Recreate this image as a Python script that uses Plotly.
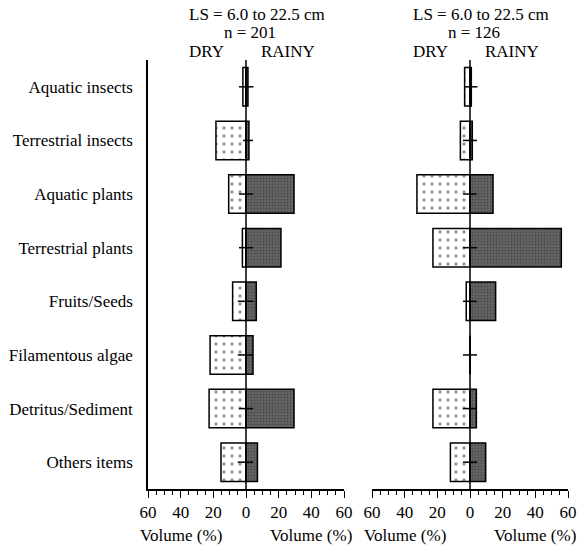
import numpy as np
import plotly.graph_objects as go

categories = ["Aquatic insects", "Terrestrial insects", "Aquatic plants", "Terrestrial plants",
              "Fruits/Seeds", "Filamentous algae", "Detritus/Sediment", "Others items"]

# Left panel (n = 201)
dry_left = [1.9, 18.4, 10.6, 2.2, 8.2, 22.0, 22.6, 15.3]
rainy_left = [1.2, 1.8, 29.4, 21.4, 6.3, 4.3, 29.4, 7.0]
err_minus_left = [4.3, 1.8, 4.3, 4.3, 5.0, 5.0, 4.3, 5.0]
err_plus_left = [4.6, 4.3, 4.3, 4.3, 4.6, 4.3, 4.3, 4.3]

# Right panel (n = 126)
dry_right = [3.3, 5.9, 32.5, 22.7, 2.3, 0.0, 22.7, 12.0]
rainy_right = [0.8, 1.4, 14.1, 55.9, 15.7, 0.0, 3.9, 9.6]
err_minus_right = [3.3, 4.3, 4.3, 4.3, 4.3, 4.3, 4.3, 4.3]
err_plus_right = [4.6, 4.3, 4.0, 4.3, 4.0, 4.3, 4.0, 4.3]

tick_vals = [-60, -40, -20, 0, 20, 40, 60]
tick_text = ["60", "40", "20", "0", "20", "40", "60"]

FONT = "Liberation Serif"
FS = 17
W, H = 579, 547

fig = go.Figure()

dry_pattern = dict(shape=".", fgcolor="#333333", bgcolor="white", size=8, solidity=0.14, fillmode="overlay")
rainy_pattern = dict(shape=".", fgcolor="#2a2a2a", bgcolor="#656565", size=3, solidity=0.3, fillmode="overlay")

panels = [("x", "y", dry_left, rainy_left, err_minus_left, err_plus_left),
          ("x2", "y2", dry_right, rainy_right, err_minus_right, err_plus_right)]

for xa, ya, dry, rainy, em, ep in panels:
    fig.add_trace(go.Bar(
        y=categories, x=-np.array(dry), orientation="h", width=0.72,
        marker=dict(color="white", pattern=dry_pattern, line=dict(color="black", width=1.5)),
        xaxis=xa, yaxis=ya, showlegend=False))
    fig.add_trace(go.Bar(
        y=categories, x=np.array(rainy), orientation="h", width=0.72,
        marker=dict(color="#656565", pattern=rainy_pattern, line=dict(color="black", width=1.5)),
        xaxis=xa, yaxis=ya, showlegend=False))
    fig.add_trace(go.Scatter(
        y=categories, x=np.zeros(len(categories)), mode="markers",
        marker=dict(size=0.1, color="black", opacity=0),
        error_x=dict(type="data", symmetric=False, array=ep, arrayminus=em,
                     width=0, thickness=1.5, color="black"),
        xaxis=xa, yaxis=ya, showlegend=False, hoverinfo="skip"))
    # zero reference line drawn above bars
    fig.add_shape(type="line", xref=xa, yref=f"{ya} domain", x0=0, x1=0, y0=0, y1=1,
                  line=dict(color="black", width=1.5), layer="above")

y_dom = [1 - 489 / H, 1 - 60 / H]
xaxis_common = dict(
    range=[-60, 60], tickvals=tick_vals, ticktext=tick_text,
    showline=True, linecolor="black", linewidth=1.5, mirror=False,
    ticks="outside", ticklen=7, tickwidth=1, tickcolor="black",
    minor=dict(dtick=5, ticks="outside", ticklen=4, tickcolor="black", tickwidth=1),
    showgrid=False, zeroline=False, automargin=False,
    tickfont=dict(family=FONT, size=FS, color="black"),
    fixedrange=True,
)

fig.update_layout(
    width=W, height=H, autosize=False,
    margin=dict(l=0, r=0, t=0, b=0, pad=0, autoexpand=False),
    paper_bgcolor="white", plot_bgcolor="white",
    barmode="overlay",
    xaxis=dict(xaxis_common, domain=[148 / W, 344 / W], anchor="y"),
    xaxis2=dict(xaxis_common, domain=[372 / W, 568 / W], anchor="y2"),
    yaxis=dict(domain=y_dom, range=[7.5, -0.5], categoryorder="array", categoryarray=categories,
               showline=True, linecolor="black", linewidth=1.5, ticks="", showgrid=False,
               zeroline=False, ticklabelstandoff=10, anchor="x", automargin=False,
               tickfont=dict(family=FONT, size=FS, color="black"), fixedrange=True),
    yaxis2=dict(domain=y_dom, range=[7.5, -0.5], categoryorder="array", categoryarray=categories,
                showline=False, showticklabels=False, ticks="", showgrid=False, zeroline=False,
                anchor="x2", matches="y", automargin=False, fixedrange=True),
    font=dict(family=FONT, color="black", size=FS),
)

headers = [("x", "201"), ("x2", "126")]
for xa, n in headers:
    fig.add_annotation(text="LS = 6.0 to 22.5 cm", xref=xa, x=6.5, yref="paper", y=1 - 15 / H,
                       showarrow=False, font=dict(family=FONT, size=FS), xanchor="center", yanchor="middle")
    fig.add_annotation(text=f"n = {n}", xref=xa, x=2.5, yref="paper", y=1 - 33 / H,
                       showarrow=False, font=dict(family=FONT, size=FS), xanchor="center", yanchor="middle")
    fig.add_annotation(text="DRY", xref=xa, x=-24, yref="paper", y=1 - 51 / H,
                       showarrow=False, font=dict(family=FONT, size=FS), xanchor="center", yanchor="middle")
    fig.add_annotation(text="RAINY", xref=xa, x=26, yref="paper", y=1 - 51 / H,
                       showarrow=False, font=dict(family=FONT, size=FS), xanchor="center", yanchor="middle")
    for xv in (-40, 40):
        fig.add_annotation(text="Volume (%)", xref=xa, x=xv, yref="paper", y=1 - 535 / H,
                           showarrow=False, font=dict(family=FONT, size=FS), xanchor="center", yanchor="middle")

fig.write_html("out.html", config={"displayModeBar": False, "responsive": False},
               post_script="document.body.style.margin='0';document.body.style.padding='0';")
